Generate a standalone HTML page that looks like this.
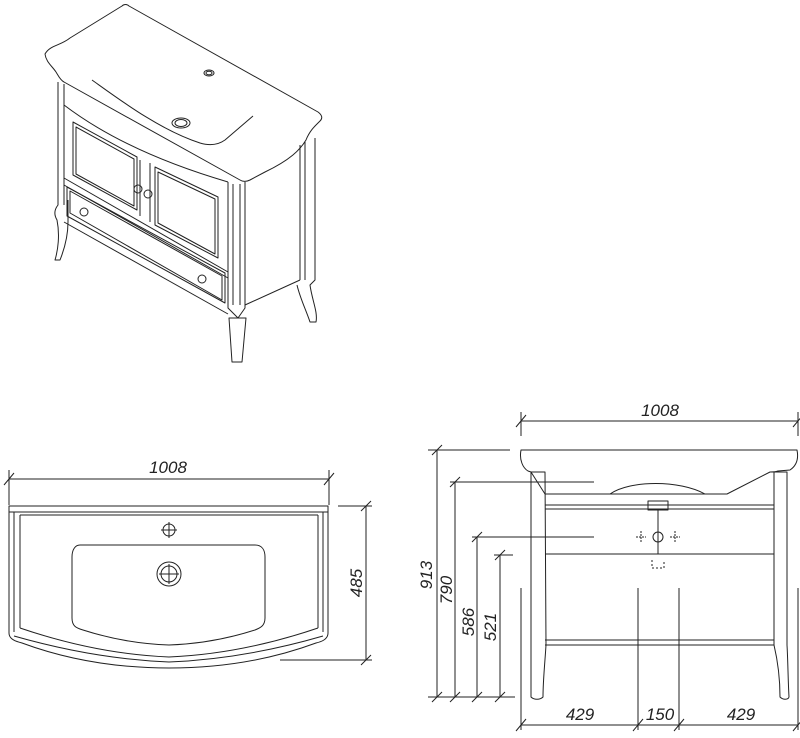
<!DOCTYPE html>
<html><head><meta charset="utf-8"><style>
html,body{margin:0;padding:0;background:#fff}
svg{display:block}
text{font-family:"Liberation Sans",sans-serif;font-style:italic;font-size:17px;fill:#222}
</style></head><body>
<svg width="800" height="738" viewBox="0 0 800 738" xmlns="http://www.w3.org/2000/svg">
<g fill="none" stroke="#222" stroke-width="1" stroke-linejoin="round">
<!-- ISOMETRIC -->
<path d="M45,54 C50,45 60,46 70,38 L122,6 C124,4 127,4 129,6 L318,112 C322,115 323,118 320,121 C316,125 310,130 306,140 C300,150 290,160 265,172 L250,180 C246,182 243,182 240,180 L64,82 C60,80 58,75 56,72 C52,66 46,62 45,54 Z"/>
<path d="M92,80 C120,100 160,130 200,143 C210,146 218,145 225,140 L253,116"/>
<ellipse cx="181" cy="123" rx="9" ry="5"/><ellipse cx="181" cy="123" rx="6" ry="3.5"/>
<ellipse cx="209" cy="73" rx="5" ry="3"/><ellipse cx="209" cy="73" rx="3" ry="1.8"/>
<!-- left leg -->
<path d="M58,82 L58,205 C54,210 54,215 57,220 C60,235 58,250 55,260 L60,260 C66,245 68,232 68,222 L68,200 M64,84 L64,205"/>
<!-- cabinet front -->
<path d="M64,105 C110,140 170,165 228,182"/>
<path d="M64,178 L228,272 M64,185 L228,278"/>
<path d="M73,122 L137,157 L137,210 L73,175 Z M76,127 L134,159 L134,206 L76,174 Z"/>
<path d="M155,167 L218,197 L218,258 L155,225 Z M158,172 L215,199 L215,254 L158,223 Z"/>
<path d="M140,160 L140,216 M150,163 L150,222"/>
<path d="M67,187 L225,273 L225,303 L67,216 Z M70,191 L222,276 L222,300 L70,213 Z"/>
<path d="M64,222 L228,314"/>
<circle cx="138" cy="189" r="4"/><circle cx="148" cy="194" r="4"/>
<circle cx="84" cy="212" r="4"/><circle cx="202" cy="279" r="4"/>
<!-- front right leg -->
<path d="M228,182 L228,308 L238,318 L245,308 L245,182 M233,184 L233,305 M240,184 L240,305"/>
<path d="M229,318 L232,362 L242,362 L246,318 Z"/>
<!-- back right leg & side -->
<path d="M300,145 L300,280 M305,142 L305,280 M315,138 L315,280 L310,285 C312,300 318,312 316,322 L310,322 C306,310 300,298 297,285"/>
<path d="M245,305 L300,280"/>
<!-- TOP VIEW -->
<path d="M9,479 L329,479 M9,470 L9,505 M329,470 L329,505 M4,485 L14,473 M324,485 L334,473"/>
<path d="M9,506 L328,506 L328,633 C328,640 320,642 316,643 C270,660 220,668 169,668 C118,668 68,660 22,643 C18,642 9,640 9,633 Z"/>
<path d="M9,512 L328,512 M20,515 L318,515 M20,515 L20,628 M318,515 L318,628 M14,512 L14,632 M323,512 L323,632"/>
<path d="M20,628 C70,645 120,655 169,657 C218,655 268,645 318,628"/>
<path d="M14,636 C70,652 120,660 169,662 C218,660 268,652 323,636"/>
<path d="M80,545 L255,545 C262,545 265,550 265,557 L265,618 C265,626 260,628 255,630 C230,638 200,644 169,645 C138,644 108,638 83,630 C76,628 72,626 72,618 L72,557 C72,550 75,545 80,545 Z"/>
<circle cx="169" cy="530" r="6"/><path d="M161,530 L177,530 M169,522 L169,538"/>
<circle cx="169" cy="574" r="12"/><circle cx="169" cy="574" r="8"/><path d="M159,574 L179,574 M169,564 L169,584"/>
<path d="M338,506 L372,506 M280,660 L372,660 M366,506 L366,660 M361,511 L371,501 M361,665 L371,655"/>
<!-- FRONT VIEW -->
<path d="M521,421 L798,421 M521,412 L521,436 M798,412 L798,436 M516,427 L526,415 M793,427 L803,415"/>
<path d="M521,450 L797,450 C799,460 796,466 790,470 L778,471 C776,472 772,472 770,472 L727,494 L545,494 L531,472 L528,471 C523,468 519,460 521,450 Z"/>
<path d="M610,494 C630,480 680,480 705,494"/>
<path d="M531,472 L531,697 C534,700 540,700 543,697 C543,680 545,662 546,645 L545,472 Z M774,472 L774,645 C778,662 780,680 780,697 C783,700 788,700 789,697 C788,680 788,662 787,645 L787,472 Z"/>
<path d="M545,505 L774,505 M545,509 L774,509 M545,554 L774,554 M545,640 L774,640 M545,645 L774,645"/>
<path d="M648,501 L668,501 L668,510 L648,510 Z M658,510 L658,554"/>
<circle cx="658" cy="537" r="5"/>
<path d="M636,537 L646,537 M641,531 L641,543 M670,537 L680,537 M675,531 L675,543" stroke-dasharray="2,1"/>
<path d="M652,560 L652,568 L664,568 L664,560" stroke-dasharray="2,2"/>
<path d="M428,450 L510,450 M437,450 L437,697 M428,697 L515,697 M432,455 L442,445 M432,702 L442,692"/>
<path d="M450,482 L594,482 M455,482 L455,697 M450,487 L460,477 M450,702 L460,692"/>
<path d="M472,537 L594,537 M477,537 L477,697 M472,542 L482,532 M472,702 L482,692"/>
<path d="M494,555 L513,555 M500,555 L500,697 M495,560 L505,550 M495,702 L505,692"/>
<path d="M521,588 L521,730 M638,588 L638,730 M679,588 L679,730 M798,588 L798,730 M521,725 L798,725 M516,731 L526,719 M633,731 L643,719 M674,731 L684,719 M793,731 L803,719"/>
</g>
<text x="168" y="473" text-anchor="middle">1008</text>
<text transform="translate(362,583) rotate(-90)" text-anchor="middle">485</text>
<text x="660" y="416" text-anchor="middle">1008</text>
<text transform="translate(432,575) rotate(-90)" text-anchor="middle">913</text>
<text transform="translate(452,590) rotate(-90)" text-anchor="middle">790</text>
<text transform="translate(474,622) rotate(-90)" text-anchor="middle">586</text>
<text transform="translate(496,627) rotate(-90)" text-anchor="middle">521</text>
<text x="580" y="720" text-anchor="middle">429</text>
<text x="660" y="720" text-anchor="middle">150</text>
<text x="741" y="720" text-anchor="middle">429</text>
</svg>
</body></html>
